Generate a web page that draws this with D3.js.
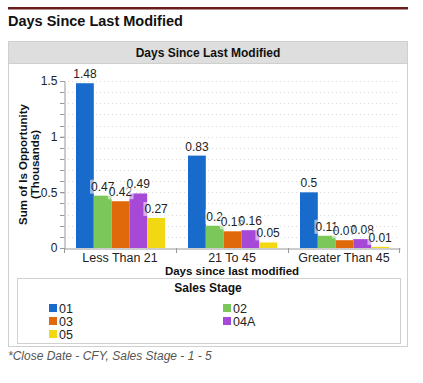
<!DOCTYPE html>
<meta charset="utf-8">
<style>
  body{ margin:0; background:#fff; }
  text{ font-family: "Liberation Sans", Arial, Helvetica, sans-serif; }
  .pageTitle{ font-size:14.5px; font-weight:bold; fill:#111; }
  .hdr{ font-size:12px; font-weight:bold; fill:#111; }
  .tick text{ font-size:12px; fill:#222; }
  .axisTitle{ font-size:11.5px; font-weight:bold; fill:#111; }
  .valLabel{ font-size:12px; fill:#222; }
  .legText{ font-size:12.5px; fill:#222; }
  .note{ font-size:12px; font-style:italic; fill:#555; }
</style>
<body>
<div id="container"></div>
<script src="https://cdnjs.cloudflare.com/ajax/libs/d3/7.8.5/d3.min.js"></script>
<script>

var categories = ['Less Than 21', '21 To 45', 'Greater Than 45'];
var stages = ['01', '02', '03', '04A', '05'];
var stageColors = ['#196bcb', '#7cc75a', '#e0690c', '#a649d6', '#f2d813'];
// values per stage, one per category
var val01  = [1.48, 0.83, 0.5];
var val02  = [0.47, 0.2, 0.11];
var val03  = [0.42, 0.15, 0.07];
var val04A = [0.49, 0.16, 0.08];
var val05  = [0.27, 0.05, 0.01];
var yTicks = [0, 0.5, 1, 1.5];
var yMinor = d3.range(0, 16).map(function(i){ return i / 10; });

var series = [val01, val02, val03, val04A, val05];

var svg = d3.select('#container').append('svg').attr('width', 423).attr('height', 383);

// page header
svg.append('rect').attr('x', 8).attr('y', 7).attr('width', 400).attr('height', 2.5).attr('fill', '#6b1c1c');
svg.append('text').attr('class', 'pageTitle').attr('x', 8).attr('y', 26).text('Days Since Last Modified');

// panel
svg.append('rect').attr('x', 8.5).attr('y', 41.5).attr('width', 399).attr('height', 305)
  .attr('fill', '#fff').attr('stroke', '#cfcfcf');
svg.append('rect').attr('x', 8.5).attr('y', 41.5).attr('width', 399).attr('height', 22)
  .attr('fill', '#dedede').attr('stroke', '#cfcfcf');
svg.append('text').attr('class', 'hdr').attr('x', 208).attr('y', 57).attr('text-anchor', 'middle')
  .text('Days Since Last Modified');

var m = {left: 64, right: 400, top: 81, bottom: 248};

var y = d3.scaleLinear().domain([0, 1.5]).range([m.bottom, m.top]);
var x0 = d3.scaleBand().domain(categories).range([m.left, m.right]);
var x1 = d3.scaleBand().domain(stages).range([12, x0.bandwidth() - 11]);

// dotted grid
svg.append('g').selectAll('line').data(yMinor.slice(1)).join('line')
  .attr('x1', m.left).attr('x2', m.right)
  .attr('y1', function(d){ return Math.round(y(d)) + 0.5; })
  .attr('y2', function(d){ return Math.round(y(d)) + 0.5; })
  .attr('stroke', '#d8d8d8').attr('stroke-dasharray', '1,3');

// minor ticks on y axis
svg.append('g').selectAll('line').data(yMinor).join('line')
  .attr('x1', m.left - 4).attr('x2', m.left)
  .attr('y1', function(d){ return Math.round(y(d)) + 0.5; })
  .attr('y2', function(d){ return Math.round(y(d)) + 0.5; })
  .attr('stroke', '#999');

var yAxis = svg.append('g').attr('transform', 'translate(' + (m.left + 0.5) + ',0)')
  .call(d3.axisLeft(y).tickValues(yTicks).tickFormat(d3.format('')).tickSize(4).tickPadding(3));
yAxis.select('.domain').attr('stroke', '#999');
yAxis.selectAll('.tick line').attr('stroke', '#999');

// bars
var groups = svg.append('g').selectAll('g').data(categories).join('g')
  .attr('transform', function(d){ return 'translate(' + x0(d) + ',0)'; });

groups.selectAll('rect').data(function(d, i){
  return stages.map(function(s, j){ return {stage: s, v: series[j][i], c: stageColors[j]}; });
}).join('rect')
  .attr('x', function(d){ return x1(d.stage); })
  .attr('y', function(d){ return y(d.v); })
  .attr('width', x1.bandwidth())
  .attr('height', function(d){ return y(0) - y(d.v); })
  .attr('fill', function(d){ return d.c; });

// value labels with a faint white backing
var labels = groups.selectAll('g.lbl').data(function(d, i){
  return stages.map(function(s, j){ return {stage: s, v: series[j][i]}; });
}).join('g').attr('class', 'lbl');

labels.append('text')
  .attr('class', 'valLabel')
  .attr('x', function(d){ return x1(d.stage) + x1.bandwidth() / 2; })
  .attr('y', function(d){ return y(d.v) - 5; })
  .attr('text-anchor', 'middle')
  .text(function(d){ return d.v; });

labels.each(function(){
  var g = d3.select(this);
  var b = g.select('text').node().getBBox();
  g.insert('rect', 'text').attr('x', b.x - 1).attr('y', b.y)
    .attr('width', b.width + 2).attr('height', b.height)
    .attr('fill', '#fff').attr('opacity', 0.55);
});

// x axis
var xAxis = svg.append('g').attr('transform', 'translate(0,' + (m.bottom + 0.5) + ')')
  .call(d3.axisBottom(x0).tickSize(0).tickPadding(5));
xAxis.select('.domain').attr('stroke', '#999');
xAxis.selectAll('.tick text').style('font-size', '12.5px');
svg.append('g').selectAll('line').data(categories.concat(['end'])).join('line')
  .attr('x1', function(d){ return d === 'end' ? m.right - 0.5 : Math.round(x0(d)) + 0.5; })
  .attr('x2', function(d){ return d === 'end' ? m.right - 0.5 : Math.round(x0(d)) + 0.5; })
  .attr('y1', m.bottom).attr('y2', m.bottom + 5)
  .attr('stroke', '#999');

svg.append('text').attr('class', 'axisTitle').attr('x', (m.left + m.right) / 2).attr('y', 275)
  .attr('text-anchor', 'middle').text('Days since last modified');

var yt = svg.append('text').attr('class', 'axisTitle').attr('text-anchor', 'middle')
  .attr('transform', 'translate(27,' + ((m.top + m.bottom) / 2) + ') rotate(-90)');
yt.append('tspan').attr('x', 0).attr('dy', 0).text('Sum of Is Opportunity');
yt.append('tspan').attr('x', 0).attr('dy', 12).text('(Thousands)');

// legend
svg.append('rect').attr('x', 17.5).attr('y', 278.5).attr('width', 383).attr('height', 65)
  .attr('fill', '#fff').attr('stroke', '#d0d0d0');
svg.append('text').attr('class', 'hdr').attr('x', 208).attr('y', 292).attr('text-anchor', 'middle')
  .text('Sales Stage');

var leg = svg.append('g').selectAll('g').data(stages).join('g')
  .attr('transform', function(d, i){
    return 'translate(' + (i % 2 ? 223 : 49) + ',' + (308 + Math.floor(i / 2) * 13) + ')';
  });
leg.append('rect').attr('x', 0).attr('y', -4).attr('width', 8).attr('height', 8)
  .attr('fill', function(d, i){ return stageColors[i]; });
leg.append('text').attr('class', 'legText').attr('x', 10).attr('y', 4.5).text(function(d){ return d; });

svg.append('text').attr('class', 'note').attr('x', 8).attr('y', 360)
  .text('*Close Date - CFY, Sales Stage - 1 - 5');

</script>
</body>
</html>
